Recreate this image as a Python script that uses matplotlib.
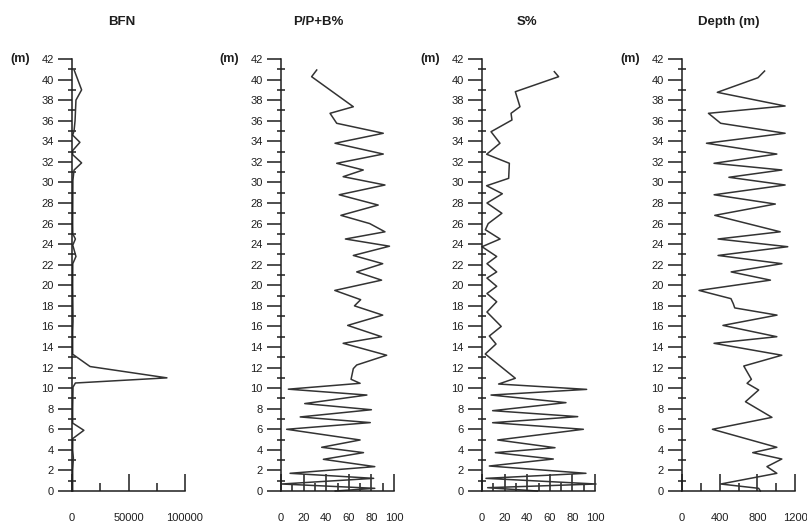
import matplotlib
matplotlib.use('Agg')
import matplotlib.pyplot as plt
from matplotlib.ticker import MultipleLocator

plt.rcParams['font.family'] = ['Liberation Sans', 'DejaVu Sans']

# BFN
bfn_depth = [40.9, 39.0, 38.0, 36.0, 35.0, 34.6, 33.9, 33.1, 32.7, 31.9, 31.2, 30.2, 28.0, 26.0,
             25.0, 24.5, 23.9, 22.8, 22.1, 20.0, 16.5, 15.5, 13.3, 12.1, 11.0, 10.5, 10.1, 8.0,
             6.6, 5.9, 5.1, 4.0, 3.2, 2.0, 0.0]
bfn_val = [2000, 8500, 3500, 2700, 1800, 600, 7000, 600, 600, 8500, 1800, 800, 700, 600,
           700, 3000, 700, 3500, 700, 600, 900, 600, 600, 16000, 84000, 3000, 900, 600,
           600, 10500, 700, 600, 1200, 600, 600]

# P/P+B%
ppb_depth = [40.93, 40.28, 37.36, 36.72, 35.75, 34.78, 33.81, 32.76, 31.86, 31.21, 30.56, 29.75,
             28.8, 27.8, 26.8, 26.0, 25.2, 24.5, 23.8, 22.9, 22.1, 21.3, 20.5, 19.5, 18.6, 18.0,
             17.1, 16.1, 15.0, 14.36, 13.2, 12.25, 11.9, 10.86, 10.47, 9.9, 9.33, 8.5, 7.9, 7.2,
             6.65, 6.0, 4.96, 4.25, 3.73, 3.08, 2.37, 1.72, 1.23, 0.68, 0.26, 0.0]
ppb_val = [31.6, 27.1, 64, 43.4, 49.3, 90.5, 47.8, 90.5, 49.3, 72.8, 55, 92,
           51.5, 86, 53, 78.5, 92, 57, 96, 64, 90, 67, 89, 47.6, 70.5, 65,
           90, 59, 89, 55, 93.5, 67, 64, 62, 70, 6.5, 76, 21, 80, 17,
           79, 5, 70, 36, 73, 37.5, 83, 8, 82, 0.5, 83, 48]

# S%
s_depth = [40.77, 40.28, 38.82, 37.36, 36.72, 36.07, 34.93, 33.81, 32.74, 31.86, 30.4, 29.68,
           28.9, 28.0, 27.0, 26.0, 25.4, 24.5, 23.75, 22.8, 22.1, 21.3, 20.7, 19.9, 19.2, 18.4,
           17.4, 16.0, 15.07, 14.29, 13.32, 10.96, 10.40, 9.88, 9.33, 8.59, 7.81, 7.23, 6.64,
           6.0, 4.96, 4.21, 3.73, 3.11, 2.43, 1.72, 1.23, 0.68, 0.32, 0.0]
s_val = [64, 67.8, 29.5, 33.6, 25.7, 26.5, 8, 15.9, 4.1, 24.2, 23.6, 4.1,
         18, 4.4, 17.6, 5.5, 3, 16, 0, 13, 4.4, 13, 4.4, 13, 4.4, 13,
         4.4, 17, 6.5, 12.4, 2.9, 29.5, 14.7, 92.6, 8, 74.3, 9.4, 84.7, 9.4,
         89.7, 13.9, 64.6, 11.8, 63.1, 6.5, 92, 3.5, 100.9, 5, 49]

# Depth (m)
d_depth = [40.83, 40.18, 38.76, 37.43, 36.72, 35.75, 34.78, 33.81, 32.76, 31.86, 31.21, 30.5,
           29.75, 28.8, 27.9, 26.8, 25.2, 24.5, 23.75, 22.9, 22.1, 21.3, 20.5, 19.5, 18.7, 18.2,
           17.8, 17.1, 16.1, 15.0, 14.36, 13.2, 12.15, 10.86, 10.47, 9.82, 8.68, 7.16, 6.0,
           4.25, 3.73, 3.11, 2.37, 1.72, 0.68, 0.26, 0.0]
d_val = [877, 807, 375, 1095, 281, 411, 1095, 260, 1007, 340, 1060, 498,
         1095, 341, 991, 348, 1043, 383, 1123, 383, 1061, 522, 939, 181, 520, 545,
         560, 1009, 435, 1007, 340, 1060, 656, 737, 691, 814, 674, 955, 323,
         1007, 751, 1060, 902, 1007, 411, 814, 832]

titles = ['BFN', 'P/P+B%', 'S%', 'Depth (m)']
xmax = [100000, 100, 100, 1200]
xmajor = [50000, 20, 20, 400]
xminor = [25000, 10, 10, 200]
series = [(bfn_val, bfn_depth), (ppb_val, ppb_depth), (s_val, s_depth), (d_val, d_depth)]

W, H = 807, 524
fig = plt.figure(figsize=(W / 100, H / 100), dpi=100)
lefts = [72, 281, 482, 682]
title_x = [122, 318, 527, 729]
ax_w = 113
y_top, y_bot = 59, 491
line_col = '#333333'
txt_col = '#1e1e1e'

for i in range(4):
    ax = fig.add_axes([lefts[i] / W, (H - y_bot) / H, ax_w / W, (y_bot - y_top) / H])
    x, y = series[i]
    ax.plot(x, y, color=line_col, lw=1.1, clip_on=False)
    ax.set_xlim(0, xmax[i])
    ax.set_ylim(0, 42)
    ax.spines['top'].set_visible(False)
    ax.spines['right'].set_visible(False)
    for s in ['left', 'bottom']:
        ax.spines[s].set_color(txt_col)
        ax.spines[s].set_linewidth(1.1)
    ax.yaxis.set_major_locator(MultipleLocator(2))
    ax.yaxis.set_minor_locator(MultipleLocator(1))
    ax.xaxis.set_major_locator(MultipleLocator(xmajor[i]))
    ax.xaxis.set_minor_locator(MultipleLocator(xminor[i]))
    ax.tick_params(axis='y', which='major', direction='out', length=10, width=1.1,
                   pad=3, labelsize=8, colors=txt_col)
    ax.tick_params(axis='y', which='minor', direction='inout', length=6, width=1.1,
                   colors=txt_col)
    ax.tick_params(axis='x', which='major', direction='in', length=12, width=1.1,
                   pad=16, labelsize=8, colors=txt_col)
    ax.tick_params(axis='x', which='minor', direction='in', length=6, width=1.1,
                   colors=txt_col)
    ax.text(-0.455, 42, '(m)', transform=ax.get_yaxis_transform(), ha='center',
            va='center', fontsize=9, fontweight='bold', color=txt_col)
    fig.text(title_x[i] / W, 1 - 22 / H, titles[i], ha='center', va='center',
             fontsize=9.5, fontweight='bold', color=txt_col)

fig.savefig('out.png', dpi=100, facecolor='white')
